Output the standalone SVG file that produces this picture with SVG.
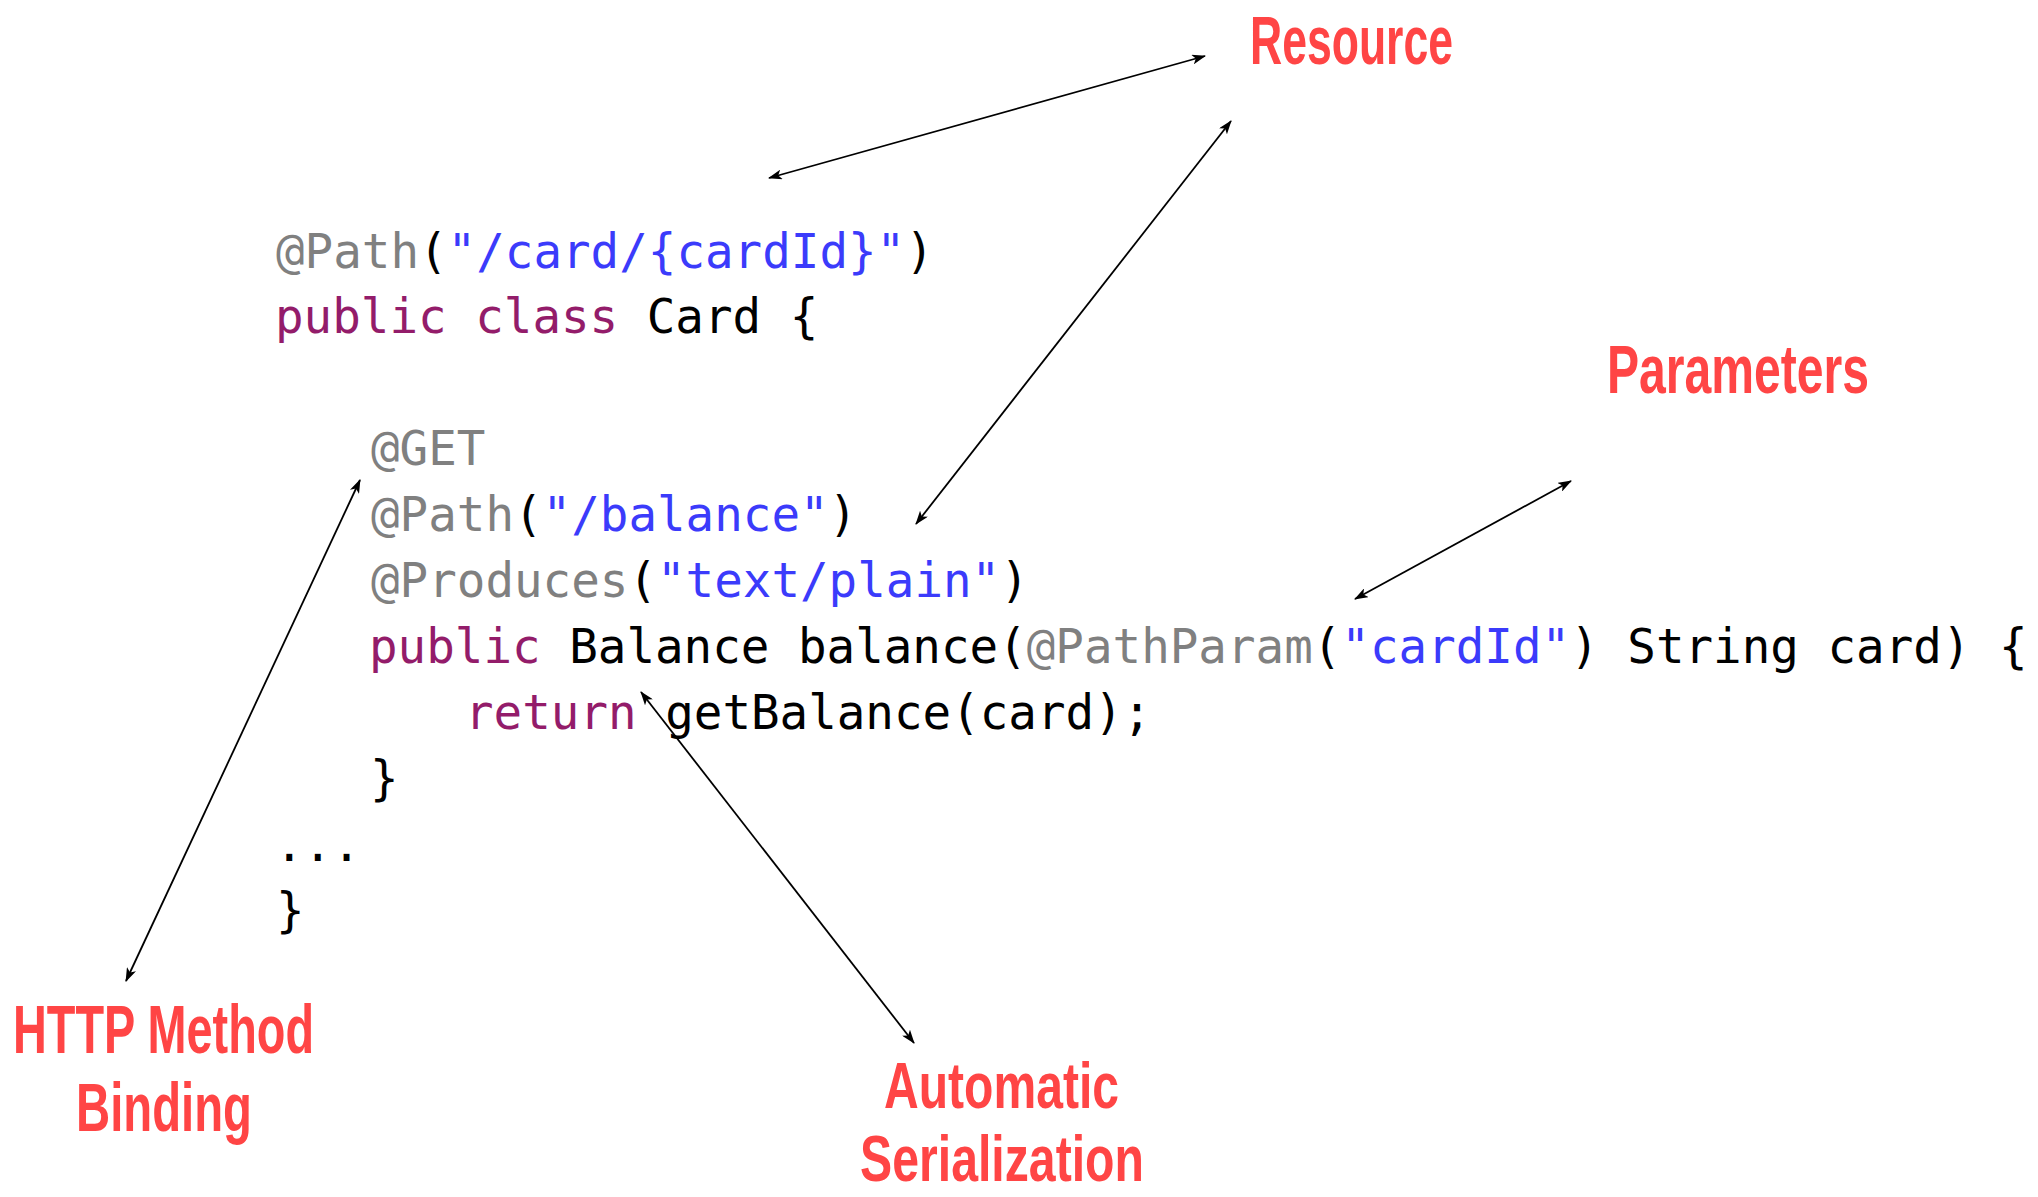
<svg xmlns="http://www.w3.org/2000/svg" width="2038" height="1197" viewBox="0 0 2038 1197">
<style>
.code{font-family:"DejaVu Sans Mono","Liberation Mono",monospace;font-size:47.5px;fill:#000;white-space:pre}
.an{fill:#808080}
.st{fill:#3b3bfb}
.kw{fill:#931c6a}
.lbl{font-family:"Liberation Sans Narrow","Liberation Sans",sans-serif;font-weight:bold;font-size:69px;fill:#ff4545}
.sm{font-size:64px}
.conn{stroke:#000;stroke-width:1.8;fill:none;marker-start:url(#ah);marker-end:url(#ah)}
</style>
<defs>
<marker id="ah" viewBox="0 0 14 10" refX="13" refY="5" markerWidth="14" markerHeight="10" markerUnits="userSpaceOnUse" orient="auto-start-reverse">
<path d="M0,0 L14,5 L0,10 L3.5,5 z" fill="#000"/>
</marker>
</defs>
<rect width="2038" height="1197" fill="#fff"/>
<g id="code">
<text class="code" x="276" y="268"><tspan class="an">@Path</tspan>(<tspan class="st">"/card/{cardId}"</tspan>)</text>
<text class="code" x="275" y="333"><tspan class="kw">public class</tspan> Card {</text>
<text class="code" x="371" y="465"><tspan class="an">@GET</tspan></text>
<text class="code" x="371" y="531"><tspan class="an">@Path</tspan>(<tspan class="st">"/balance"</tspan>)</text>
<text class="code" x="371" y="597"><tspan class="an">@Produces</tspan>(<tspan class="st">"text/plain"</tspan>)</text>
<text class="code" x="369" y="663"><tspan class="kw">public</tspan> Balance balance(<tspan class="an">@PathParam</tspan>(<tspan class="st">"cardId"</tspan>) String card) {</text>
<text class="code" x="465" y="729"><tspan class="kw">return</tspan> getBalance(card);</text>
<text class="code" x="370" y="795">}</text>
<text class="code" x="275" y="861">...</text>
<text class="code" x="276" y="927">}</text>
</g>
<g id="connectors">
<line class="conn" x1="769" y1="178" x2="1205" y2="56"/>
<line class="conn" x1="916" y1="524" x2="1231" y2="121"/>
<line class="conn" x1="1355" y1="599" x2="1571" y2="481"/>
<line class="conn" x1="126" y1="981" x2="360" y2="480"/>
<line class="conn" x1="641" y1="692" x2="914" y2="1043"/>
</g>
<g id="label-resource"><text class="lbl" x="1250" y="64" textLength="203" lengthAdjust="spacingAndGlyphs">Resource</text></g>
<g id="label-parameters"><text class="lbl" x="1607" y="393" textLength="262" lengthAdjust="spacingAndGlyphs">Parameters</text></g>
<g id="label-http">
<text class="lbl" x="13" y="1053" textLength="301" lengthAdjust="spacingAndGlyphs">HTTP Method</text>
<text class="lbl" x="76" y="1131" textLength="176" lengthAdjust="spacingAndGlyphs">Binding</text>
</g>
<g id="label-serialization">
<text class="lbl sm" x="884" y="1108" textLength="235" lengthAdjust="spacingAndGlyphs">Automatic</text>
<text class="lbl sm" x="860" y="1181" textLength="284" lengthAdjust="spacingAndGlyphs">Serialization</text>
</g>
</svg>
